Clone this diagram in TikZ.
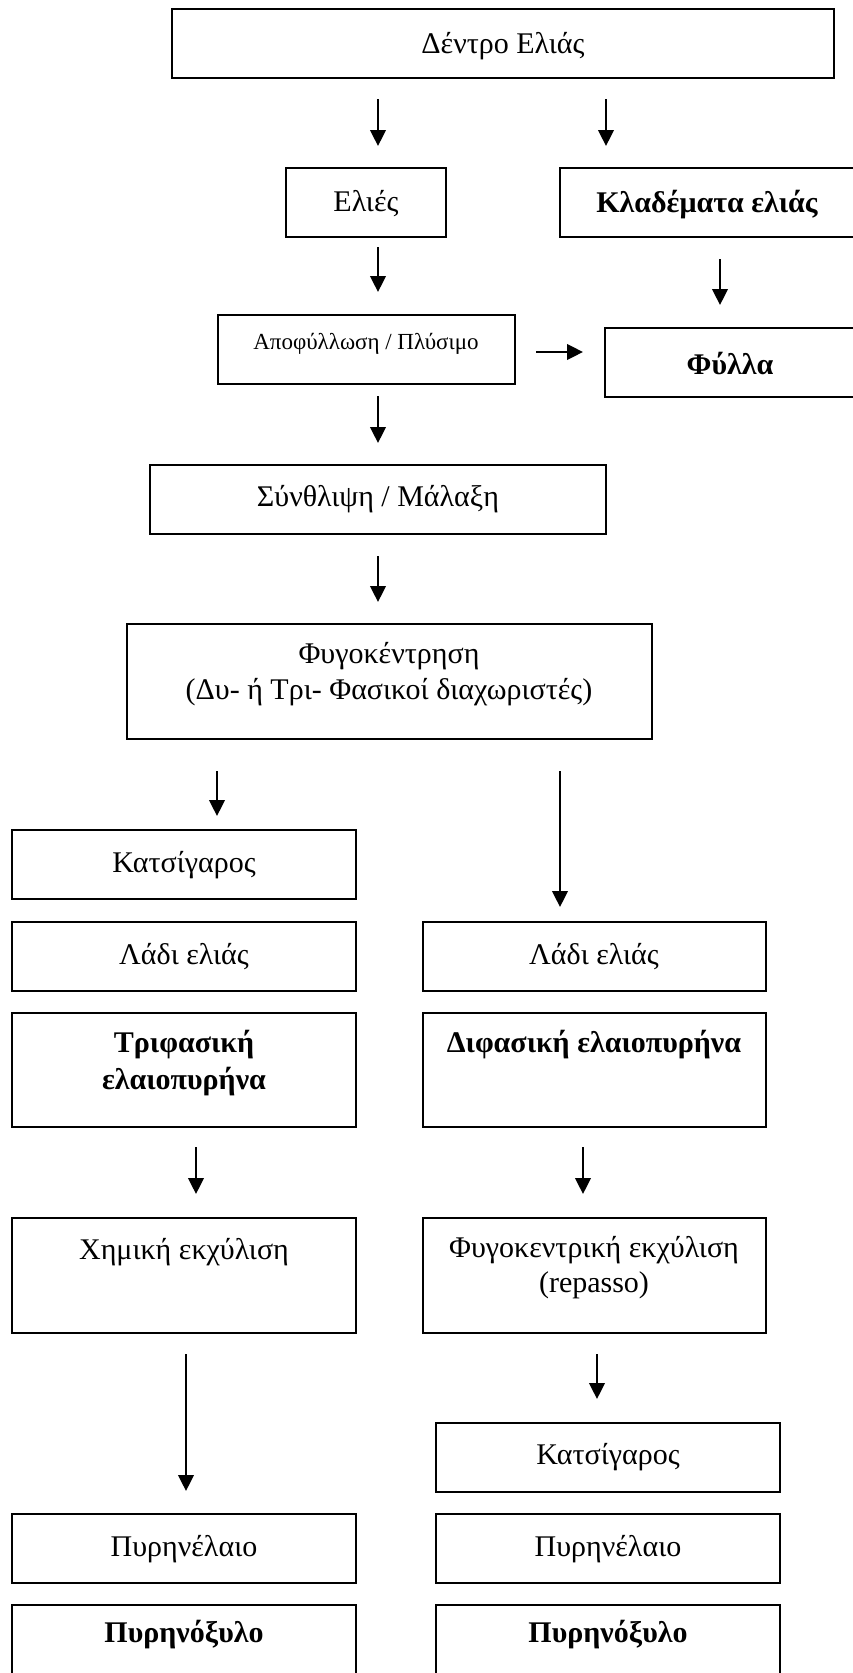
\documentclass[tikz,border=0pt]{standalone}
\usepackage{fontspec}
\setmainfont{Liberation Serif}
\usetikzlibrary{arrows.meta}
\tikzset{
	box/.style={draw, line width=2pt, inner sep=0pt, minimum width=344pt, minimum height=69pt},
	tall/.style={minimum height=115pt},
	txt/.style={align=center, inner sep=0pt, yshift=-2pt, font=\fontsize{30}{36}\selectfont},
	smalltxt/.style={align=center, inner sep=0pt, yshift=-2pt, font=\fontsize{23}{28}\selectfont}
}

\begin{document}
\begin{tikzpicture}[>={Triangle[length=16pt,width=15.5pt]},x=1pt,y=-1pt,line width=2.5pt]
	\useasboundingbox (0,0) rectangle (852,1673);
	% boxes
	\node[box, minimum width=662pt] (tree) at (503,43.5) {};
	\node[box, minimum width=160pt] (olives) at (366,202.5) {};
	\node[box, minimum width=297pt] (prun) at (708.5,202.5) {};
	\node[box, minimum width=297pt] (defol) at (366.5,349.5) {};
	\node[box, minimum width=252pt] (leaves) at (731,362.5) {};
	\node[box, minimum width=456pt] (press) at (378,499.5) {};
	\node[box, tall, minimum width=525pt] (centri) at (389.5,681.5) {};
	\node[box] (kats1) at (184,864.5) {};
	\node[box] (ladi1) at (184,956.5) {};
	\node[box, minimum width=343pt] (ladi2) at (594.5,956.5) {};
	\node[box, minimum height=114pt] (tri) at (184,1070) {};
	\node[box, minimum height=114pt, minimum width=343pt] (di) at (594.5,1070) {};
	\node[box, tall] (chem) at (184,1275.5) {};
	\node[box, tall, minimum width=343pt] (fugext) at (594.5,1275.5) {};
	\node[box] (kats2) at (608,1457.5) {};
	\node[box] (pyr1) at (184,1548.5) {};
	\node[box] (pyr2) at (608,1548.5) {};
	\node[box, tall] (xyl1) at (184,1662.5) {};
	\node[box, tall] (xyl2) at (608,1662.5) {};
	% texts
	\node[txt] (treet) at (503,44) {Δέντρο Ελιάς};
	\node[txt] (olivest) at (366,202) {Ελιές};
	\node[txt] (prunt) at (707,203) {\bfseries Κλαδέματα ελιάς};
	\node[smalltxt] (defolt) at (366,342) {Αποφύλλωση / Πλύσιμο};
	\node[txt] (leavest) at (730,361) {\bfseries Φύλλα};
	\node[txt] (presst) at (378,497) {Σύνθλιψη / Μάλαξη};
	\node[txt] (centrit) at (389,672) {Φυγοκέντρηση\\(Δυ- ή Τρι- Φασικοί διαχωριστές)};
	\node[txt] (kats1t) at (184,863) {Κατσίγαρος};
	\node[txt] (ladi1t) at (184,955) {Λάδι ελιάς};
	\node[txt] (ladi2t) at (594,955) {Λάδι ελιάς};
	\node[txt,font=\fontsize{30}{37}\selectfont\bfseries] (trit) at (184,1061) {Τριφασική\\ελαιοπυρήνα};
	\node[txt] (dit) at (594,1043) {\bfseries Διφασική ελαιοπυρήνα};
	\node[txt] (chemt) at (184,1250) {Χημική εκχύλιση};
	\node[txt,font=\fontsize{30}{35}\selectfont] (fugextt) at (594,1265.5) {Φυγοκεντρική εκχύλιση\\(repasso)};
	\node[txt] (kats2t) at (608,1455) {Κατσίγαρος};
	\node[txt] (pyr1t) at (184,1547) {Πυρηνέλαιο};
	\node[txt] (pyr2t) at (608,1547) {Πυρηνέλαιο};
	\node[txt] (xyl1t) at (184,1633) {\bfseries Πυρηνόξυλο};
	\node[txt] (xyl2t) at (608,1633) {\bfseries Πυρηνόξυλο};
	% arrows
	\foreach \i/\x/\ya/\yb in {1/378/99/146, 2/606/99/146, 3/378/247/292, 4/720/259/305,
		6/378/396/443, 7/378/556/602, 8/217/771/816, 9/560/771/907, 10/196/1147/1194,
		11/583/1147/1194, 12/186/1354/1491, 13/597/1354/1399}{
		\coordinate (s\i) at (\x,\ya);
		\coordinate (e\i) at (\x,\yb);
		\draw[->] (s\i) -- (e\i);
	}
	\coordinate (s5) at (536,352);
	\coordinate (e5) at (583,352);
	\draw[->] (s5) -- (e5);
\end{tikzpicture}
\end{document}
